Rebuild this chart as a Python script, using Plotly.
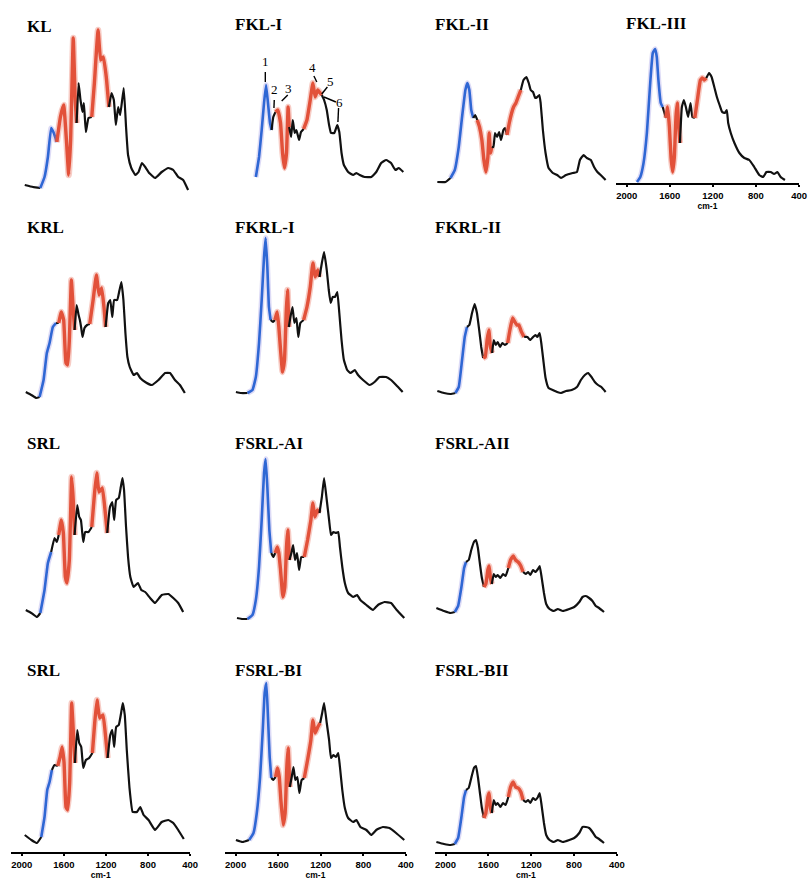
import plotly.graph_objects as go

# ---------------------------------------------------------------------------
# FTIR spectra: wavenumber (cm-1) and absorbance (arbitrary units)
# ---------------------------------------------------------------------------
KL_WN = [1972, 1893, 1824, 1784, 1752, 1721, 1696, 1667, 1633, 1602, 1576, 1554, 1536, 1511, 1492, 1479, 1460, 1442, 1423, 1410,
         1391, 1366, 1335, 1310, 1275, 1250, 1225, 1197, 1172, 1147, 1125, 1106, 1084, 1065, 1031, 1009, 990, 959, 921, 890,
         858, 827, 789, 733, 670, 607, 560, 513, 466, 419]
KL_ABS = [7, 5, 4, 15, 35, 64, 59, 50, 75, 87, 52, 17, 52, 154, 92, 69, 109, 92, 80, 89,
          60, 74, 75, 109, 162, 132, 135, 115, 85, 99, 92, 67, 85, 77, 104, 65, 37, 24, 17, 20,
          29, 25, 19, 14, 20, 24, 22, 15, 12, 2]
KL_BLUE = (1824, 1667)
KL_RED = [(1667, 1479), (1335, 1172)]

FKL1_WN = [1810, 1780, 1755, 1733, 1714, 1696, 1677, 1662, 1646, 1625, 1603, 1578, 1559, 1541, 1522, 1507, 1497, 1479, 1463, 1445,
           1429, 1404, 1386, 1361, 1330, 1299, 1274, 1253, 1228, 1206, 1190, 1169, 1144, 1122, 1104, 1073, 1045, 1026, 1005, 983,
           943, 896, 865, 834, 788, 726, 679, 633, 586, 540, 499, 468, 425]
FKL1_ABS = [15, 35, 62, 89, 107, 89, 69, 62, 75, 80, 82, 69, 39, 24, 39, 85, 65, 55, 72, 59,
            62, 52, 60, 63, 72, 92, 109, 95, 102, 99, 97, 92, 82, 67, 59, 59, 67, 60, 39, 27,
            20, 17, 19, 17, 15, 15, 20, 29, 32, 29, 22, 24, 20]
FKL1_BLUE = (1810, 1662)
FKL1_RED = [(1625, 1497), (1361, 1190)]

FKL2_WN = [2077, 2000, 1954, 1914, 1877, 1846, 1815, 1797, 1778, 1760, 1741, 1723, 1704, 1683, 1661, 1642, 1624, 1605, 1593, 1581,
           1568, 1553, 1538, 1519, 1500, 1482, 1460, 1445, 1426, 1405, 1383, 1365, 1343, 1322, 1297, 1272, 1245, 1223, 1205, 1183,
           1162, 1143, 1124, 1112, 1091, 1066, 1038, 998, 958, 921, 875, 813, 773, 745, 711, 680, 643, 613, 582, 551, 505]
FKL2_ABS = [10, 10, 14, 22, 45, 75, 102, 109, 102, 82, 74, 77, 72, 65, 52, 32, 20, 35, 59, 39,
            45, 45, 59, 55, 60, 52, 62, 64, 57, 69, 79, 85, 89, 95, 102, 112, 115, 109, 102, 100,
            94, 95, 97, 89, 62, 39, 24, 19, 17, 14, 17, 19, 20, 32, 37, 34, 32, 25, 20, 17, 12]
FKL2_BLUE = (1954, 1741)
FKL2_RED = [(1704, 1568), (1426, 1297)]

FKL3_WN = [1905, 1874, 1844, 1813, 1782, 1758, 1736, 1721, 1706, 1684, 1666, 1650, 1635, 1620, 1604, 1589, 1574, 1558, 1543, 1531,
           1519, 1506, 1488, 1469, 1451, 1430, 1408, 1390, 1368, 1344, 1316, 1298, 1279, 1261, 1236, 1212, 1187, 1163, 1138, 1114,
           1089, 1071, 1058, 1034, 1000, 954, 908, 862, 816, 770, 733, 703, 663, 632, 601, 571, 531]
FKL3_ABS = [1, 6, 20, 50, 100, 130, 134, 126, 103, 80, 76, 70, 65, 76, 56, 26, 11, 26, 66, 80,
            60, 40, 76, 83, 76, 66, 80, 66, 65, 83, 103, 105, 103, 105, 110, 106, 96, 86, 78, 71,
            70, 73, 60, 50, 40, 30, 25, 23, 16, 8, 6, 11, 11, 9, 11, 6, 3]
FKL3_BLUE = (1905, 1666)
FKL3_RED = [(1635, 1506), (1368, 1261)]

KRL_WN = [1962, 1909, 1862, 1831, 1793, 1762, 1736, 1705, 1674, 1649, 1624, 1602, 1580, 1564, 1548, 1529, 1511, 1498, 1479, 1460,
          1448, 1435, 1423, 1404, 1379, 1354, 1322, 1291, 1266, 1241, 1219, 1203, 1178, 1159, 1140, 1122, 1093, 1071, 1053, 1034,
          1015, 996, 974, 937, 905, 874, 827, 764, 701, 638, 591, 544, 497, 450]
KRL_ABS = [8, 5, 2, 3, 20, 47, 57, 73, 77, 77, 88, 80, 37, 35, 60, 120, 90, 70, 95, 85,
           80, 72, 63, 72, 75, 76, 100, 125, 105, 112, 93, 73, 97, 100, 83, 100, 100, 110, 118, 100,
           67, 43, 33, 25, 27, 22, 18, 15, 20, 27, 27, 20, 15, 7]
KRL_BLUE = (1831, 1674)
KRL_RED = [(1649, 1498), (1354, 1203)]

FKRL1_WN = [1997, 1950, 1888, 1842, 1810, 1780, 1755, 1733, 1718, 1702, 1687, 1671, 1649, 1631, 1609, 1594, 1578, 1559, 1541, 1525,
            1513, 1500, 1485, 1466, 1448, 1429, 1411, 1392, 1361, 1330, 1299, 1274, 1253, 1228, 1212, 1190, 1169, 1144, 1125, 1107,
            1088, 1067, 1045, 1026, 1005, 983, 952, 921, 881, 850, 803, 741, 695, 648, 586, 540, 493, 431]
FKRL1_ABS = [8, 7, 7, 10, 23, 57, 100, 143, 162, 133, 93, 80, 78, 80, 88, 73, 50, 28, 40, 87,
             110, 73, 83, 93, 77, 82, 63, 77, 80, 93, 113, 137, 123, 130, 123, 137, 148, 130, 110, 97,
             103, 103, 108, 87, 60, 40, 30, 27, 30, 25, 20, 15, 18, 23, 23, 20, 15, 8]
FKRL1_BLUE = (1888, 1671)
FKRL1_RED = [(1631, 1500), (1361, 1212)]

FKRL2_WN = [2077, 2015, 1954, 1908, 1877, 1846, 1821, 1800, 1778, 1753, 1729, 1707, 1686, 1667, 1649, 1630, 1612, 1596, 1581, 1565,
            1550, 1531, 1513, 1491, 1470, 1445, 1420, 1399, 1374, 1353, 1334, 1316, 1291, 1266, 1235, 1211, 1183, 1161, 1143, 1121,
            1106, 1087, 1066, 1038, 998, 958, 921, 875, 822, 773, 736, 699, 668, 637, 606, 576, 545, 505]
FKRL2_ABS = [9, 7, 6, 7, 13, 40, 63, 73, 75, 87, 96, 87, 70, 53, 42, 43, 60, 70, 53, 47,
             60, 55, 58, 53, 57, 55, 57, 70, 82, 78, 75, 75, 68, 63, 63, 60, 63, 65, 63, 67,
             57, 40, 22, 12, 10, 8, 7, 9, 10, 13, 20, 25, 27, 23, 18, 15, 13, 8]
FKRL2_BLUE = (1908, 1800)
FKRL2_RED = [(1649, 1565), (1420, 1266)]

SRL_A_WN = [1962, 1909, 1856, 1824, 1784, 1752, 1721, 1689, 1667, 1649, 1624, 1605, 1586, 1570, 1548, 1526, 1511, 1498, 1473, 1454,
            1438, 1416, 1398, 1366, 1335, 1310, 1288, 1266, 1235, 1209, 1188, 1162, 1140, 1122, 1103, 1078, 1059, 1043, 1028, 1009,
            990, 968, 937, 896, 864, 827, 780, 733, 670, 607, 560, 513, 466]
SRL_A_ABS = [10, 7, 3, 7, 30, 57, 68, 82, 78, 85, 100, 87, 43, 37, 60, 143, 120, 85, 115, 103,
             100, 78, 88, 88, 93, 125, 147, 128, 132, 110, 87, 113, 118, 100, 120, 122, 133, 142, 130, 93,
             63, 43, 33, 37, 30, 28, 22, 17, 25, 26, 22, 17, 8]
SRL_A_BLUE = (1824, 1721)
SRL_A_RED = [(1649, 1498), (1335, 1188)]

FSRLAI_WN = [1987, 1935, 1888, 1842, 1810, 1780, 1755, 1733, 1718, 1702, 1683, 1665, 1646, 1628, 1609, 1594, 1578, 1556, 1538, 1522,
             1510, 1494, 1476, 1460, 1442, 1423, 1404, 1383, 1355, 1324, 1293, 1274, 1256, 1231, 1212, 1190, 1169, 1144, 1122, 1104,
             1082, 1057, 1036, 1020, 998, 974, 943, 896, 859, 828, 772, 710, 663, 601, 540, 487, 416]
FSRLAI_ABS = [2, 1, 1, 5, 20, 53, 100, 147, 161, 133, 90, 67, 63, 67, 73, 67, 50, 23, 33, 73,
              90, 60, 67, 75, 60, 67, 50, 63, 63, 80, 100, 117, 103, 110, 107, 123, 142, 120, 100, 85,
              88, 87, 88, 73, 53, 37, 27, 23, 25, 20, 15, 10, 15, 18, 17, 10, 2]
FSRLAI_BLUE = (1888, 1665)
FSRLAI_RED = [(1628, 1494), (1355, 1212)]

FSRLAII_WN = [2086, 2015, 1954, 1914, 1883, 1852, 1827, 1809, 1784, 1760, 1735, 1716, 1698, 1679, 1661, 1642, 1624, 1605, 1593, 1581,
              1568, 1550, 1531, 1513, 1488, 1464, 1439, 1414, 1393, 1368, 1346, 1322, 1297, 1276, 1251, 1229, 1208, 1183, 1161, 1137,
              1121, 1106, 1081, 1060, 1029, 989, 952, 905, 844, 798, 751, 721, 690, 659, 628, 597, 566, 520]
FSRLAII_ABS = [12, 9, 7, 8, 14, 33, 52, 58, 60, 70, 78, 80, 72, 56, 42, 33, 36, 50, 54, 42,
               36, 46, 43, 45, 42, 46, 44, 52, 60, 64, 60, 58, 54, 48, 46, 48, 45, 50, 48, 51,
               54, 45, 27, 16, 11, 9, 11, 9, 11, 13, 18, 23, 24, 22, 19, 14, 12, 8]
FSRLAII_BLUE = (1914, 1809)
FSRLAII_RED = [(1642, 1568), (1414, 1276)]

SRL_B_WN = [1972, 1909, 1856, 1815, 1784, 1758, 1736, 1714, 1689, 1658, 1636, 1617, 1598, 1580, 1564, 1545, 1526, 1511, 1495, 1473,
            1454, 1435, 1416, 1391, 1360, 1329, 1307, 1285, 1260, 1228, 1203, 1184, 1159, 1140, 1122, 1103, 1078, 1056, 1040, 1021,
            1002, 977, 946, 905, 874, 842, 795, 733, 670, 607, 560, 513, 460]
SRL_B_ABS = [17, 12, 9, 15, 35, 62, 70, 82, 87, 86, 95, 105, 89, 45, 42, 69, 149, 122, 89, 122,
             109, 105, 84, 92, 94, 99, 129, 152, 134, 137, 115, 94, 117, 122, 105, 125, 127, 139, 149, 137,
             102, 65, 40, 40, 45, 37, 32, 22, 30, 32, 29, 22, 13]
SRL_B_BLUE = (1815, 1714)
SRL_B_RED = [(1658, 1495), (1329, 1184)]

FSRLBI_WN = [1997, 1935, 1873, 1832, 1801, 1770, 1745, 1727, 1711, 1696, 1680, 1665, 1646, 1625, 1606, 1590, 1575, 1553, 1535, 1519,
             1507, 1491, 1473, 1457, 1439, 1420, 1401, 1380, 1355, 1324, 1293, 1274, 1253, 1228, 1206, 1187, 1169, 1144, 1122, 1104,
             1082, 1057, 1036, 1020, 998, 974, 943, 896, 865, 828, 772, 726, 679, 617, 555, 493, 416]
FSRLBI_ABS = [12, 10, 12, 19, 39, 75, 122, 159, 169, 135, 95, 74, 72, 75, 84, 75, 52, 27, 39, 85,
              104, 65, 75, 85, 72, 75, 59, 72, 74, 92, 112, 132, 119, 125, 129, 139, 149, 129, 112, 94,
              97, 95, 99, 85, 62, 44, 34, 30, 32, 25, 22, 17, 22, 25, 24, 19, 12]
FSRLBI_BLUE = (1873, 1665)
FSRLBI_RED = [(1625, 1491), (1355, 1206)]

FSRLBII_WN = [2086, 2015, 1954, 1914, 1883, 1852, 1827, 1809, 1784, 1760, 1735, 1716, 1698, 1679, 1661, 1642, 1624, 1605, 1593, 1581,
              1568, 1550, 1531, 1513, 1488, 1464, 1439, 1414, 1393, 1368, 1346, 1322, 1297, 1276, 1251, 1229, 1208, 1183, 1161, 1137,
              1121, 1106, 1081, 1060, 1029, 989, 952, 905, 844, 798, 751, 721, 690, 659, 628, 597, 566, 520]
FSRLBII_ABS = [10, 8, 7, 8, 14, 35, 55, 62, 64, 74, 84, 86, 75, 59, 44, 34, 39, 55, 59, 44,
               39, 52, 47, 49, 45, 49, 47, 55, 65, 70, 65, 64, 60, 52, 50, 52, 49, 54, 52, 55,
               59, 49, 29, 17, 12, 10, 12, 10, 12, 14, 19, 25, 25, 24, 20, 15, 13, 9]
FSRLBII_BLUE = (1914, 1809)
FSRLBII_RED = [(1642, 1568), (1414, 1276)]

# numbered bands marked on the FKL-I spectrum: (label, cm-1, absorbance)
FKL1_PEAK_LABELS = [("1", 1721, 130), ("2", 1631, 102), ("3", 1501, 103),
                    ("4", 1275, 124), ("5", 1107, 110), ("6", 1024, 89)]
# leader lines (cm-1 start, abs start, cm-1 end, abs end)
FKL1_LEADERS = [(1721, 120, 1721, 110), (1637, 92, 1640, 84), (1510, 97, 1567, 91),
                (1265, 116, 1237, 110), (1138, 105, 1191, 98), (1170, 95, 1058, 90),
                (1033, 84, 1039, 70)]

TICK_VALS = [2000, 1600, 1200, 800, 400]
TICK_TEXT = ["2000", "1600", "1200", "800", "400"]
X_UNIT = "cm-1"

# ---------------------------------------------------------------------------
# page geometry
# ---------------------------------------------------------------------------
FIG_W, FIG_H = 812, 884
COL_PX = [(11.4, 192.0), (227.2, 410.0), (439.2, 623.0), (622.1, 807.0)]
ROW_BASE = [192, 400, 620, 852]
SPAN = 180
X_RANGE = [2100, 400]

BLACK, BLUE, RED = "#111111", "#2f67d4", "#e2513a"
WIDTH = {BLACK: 2.2, BLUE: 2.6, RED: 3.4}
GLOW = {RED: "rgba(232,110,90,0.35)", BLUE: "rgba(120,110,220,0.25)"}

PANELS = [
    dict(name="KL", wn=KL_WN, ab=KL_ABS, blue=KL_BLUE, red=KL_RED, col=0, row=0, title_y=26),
    dict(name="FKL-I", wn=FKL1_WN, ab=FKL1_ABS, blue=FKL1_BLUE, red=FKL1_RED, col=1, row=0, title_y=24),
    dict(name="FKL-II", wn=FKL2_WN, ab=FKL2_ABS, blue=FKL2_BLUE, red=FKL2_RED, col=2, row=0, title_y=24),
    dict(name="FKL-III", wn=FKL3_WN, ab=FKL3_ABS, blue=FKL3_BLUE, red=FKL3_RED, col=3, row=0, title_y=23,
         base=183, axis=True),
    dict(name="KRL", wn=KRL_WN, ab=KRL_ABS, blue=KRL_BLUE, red=KRL_RED, col=0, row=1, title_y=228),
    dict(name="FKRL-I", wn=FKRL1_WN, ab=FKRL1_ABS, blue=FKRL1_BLUE, red=FKRL1_RED, col=1, row=1, title_y=228),
    dict(name="FKRL-II", wn=FKRL2_WN, ab=FKRL2_ABS, blue=FKRL2_BLUE, red=FKRL2_RED, col=2, row=1, title_y=228),
    dict(name="SRL", wn=SRL_A_WN, ab=SRL_A_ABS, blue=SRL_A_BLUE, red=SRL_A_RED, col=0, row=2, title_y=443),
    dict(name="FSRL-AI", wn=FSRLAI_WN, ab=FSRLAI_ABS, blue=FSRLAI_BLUE, red=FSRLAI_RED, col=1, row=2, title_y=443),
    dict(name="FSRL-AII", wn=FSRLAII_WN, ab=FSRLAII_ABS, blue=FSRLAII_BLUE, red=FSRLAII_RED, col=2, row=2, title_y=443),
    dict(name="SRL", wn=SRL_B_WN, ab=SRL_B_ABS, blue=SRL_B_BLUE, red=SRL_B_RED, col=0, row=3, title_y=670, axis=True),
    dict(name="FSRL-BI", wn=FSRLBI_WN, ab=FSRLBI_ABS, blue=FSRLBI_BLUE, red=FSRLBI_RED, col=1, row=3, title_y=670,
         axis=True),
    dict(name="FSRL-BII", wn=FSRLBII_WN, ab=FSRLBII_ABS, blue=FSRLBII_BLUE, red=FSRLBII_RED, col=2, row=3,
         title_y=670, axis=True),
]
TITLE_X = [25, 235, 437, 630]


def band_colour(mid, blue, reds):
    if blue[1] <= mid <= blue[0]:
        return BLUE
    for hi, lo in reds:
        if lo <= mid <= hi:
            return RED
    return BLACK


fig = go.Figure()
layout = dict(
    width=FIG_W, height=FIG_H,
    margin=dict(l=0, r=0, t=0, b=0),
    paper_bgcolor="white", plot_bgcolor="rgba(0,0,0,0)",
    showlegend=False,
)
annotations = []
shapes = []

for k, p in enumerate(PANELS, start=1):
    sfx = "" if k == 1 else str(k)
    base = p.get("base", ROW_BASE[p["row"]])
    x0, x1 = COL_PX[p["col"]]
    xdom = [x0 / FIG_W, x1 / FIG_W]
    ydom = [1 - base / FIG_H, 1 - (base - SPAN) / FIG_H]
    show_axis = p.get("axis", False)

    layout["xaxis" + sfx] = dict(
        domain=xdom, range=X_RANGE, anchor="y" + sfx,
        visible=show_axis, showgrid=False, zeroline=False,
        showline=True, linecolor="black", linewidth=2.2,
        ticks="outside", ticklen=2, tickwidth=1.5, tickcolor="black",
        tickvals=TICK_VALS, ticktext=TICK_TEXT,
        tickfont=dict(family="Liberation Sans, Arial", size=9.5, color="black", weight="bold"),
        title=dict(text=X_UNIT, standoff=4,
                   font=dict(family="Liberation Sans, Arial", size=8.5, color="black", weight="bold")),
    )
    layout["yaxis" + sfx] = dict(domain=ydom, range=[0, SPAN], anchor="x" + sfx, visible=False)

    # split the spectrum into coloured runs
    wn, ab = p["wn"], p["ab"]
    runs = []
    for i in range(len(wn) - 1):
        c = band_colour((wn[i] + wn[i + 1]) / 2, p["blue"], p["red"])
        if runs and runs[-1][0] == c:
            runs[-1][2] = i + 1
        else:
            runs.append([c, i, i + 1])
    for c, a, b in runs:
        xs, ys = wn[a:b + 1], ab[a:b + 1]
        if c in GLOW:
            fig.add_trace(go.Scatter(
                x=xs, y=ys, mode="lines",
                line=dict(color=GLOW[c], width=WIDTH[c] + 3, shape="spline", smoothing=0.35),
                xaxis="x" + sfx, yaxis="y" + sfx, hoverinfo="skip",
            ))
        fig.add_trace(go.Scatter(
            x=xs, y=ys, mode="lines",
            line=dict(color=c, width=WIDTH[c], shape="spline", smoothing=0.35),
            xaxis="x" + sfx, yaxis="y" + sfx, hoverinfo="skip",
        ))

    annotations.append(dict(
        text="<b>%s</b>" % p["name"], xref="paper", yref="paper",
        x=TITLE_X[p["col"]] / FIG_W, y=1 - p["title_y"] / FIG_H,
        xanchor="left", yanchor="middle", showarrow=False,
        font=dict(family="Liberation Serif, Times New Roman", size=17, color="black"),
    ))

    if p["name"] == "FKL-I":
        for txt, xv, yv in FKL1_PEAK_LABELS:
            annotations.append(dict(
                text=txt, xref="x" + sfx, yref="y" + sfx, x=xv, y=yv,
                showarrow=False, xanchor="center", yanchor="middle",
                font=dict(family="Liberation Serif, Times New Roman", size=13, color="black"),
            ))
        for xa, ya, xb, yb in FKL1_LEADERS:
            shapes.append(dict(type="line", xref="x" + sfx, yref="y" + sfx,
                               x0=xa, y0=ya, x1=xb, y1=yb,
                               line=dict(color="black", width=1.4)))

layout["annotations"] = annotations
layout["shapes"] = shapes
fig.update_layout(**layout)
fig.write_html("out.html")
